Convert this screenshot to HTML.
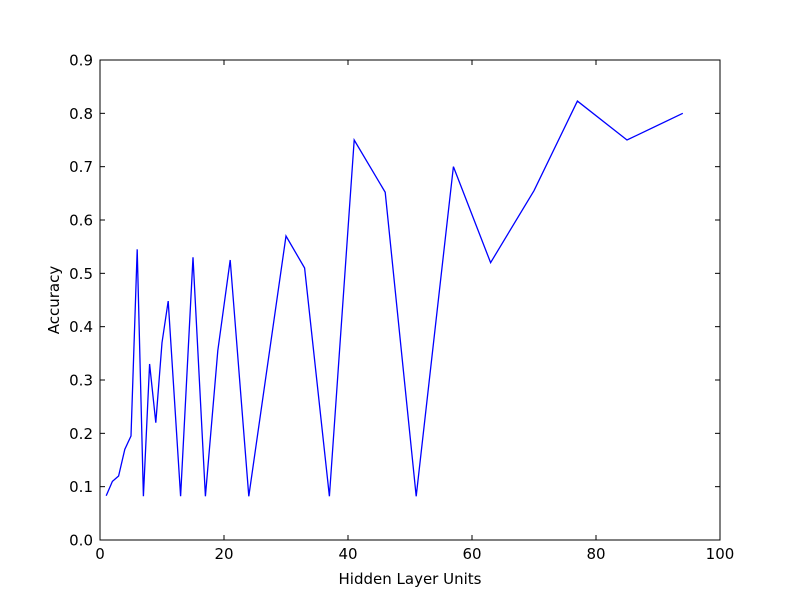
<!DOCTYPE html>
<html><head><meta charset="utf-8"><style>
body{margin:0;background:#fff;}
svg text{font-family:"DejaVu Sans","Liberation Sans",sans-serif;fill:#000;}
</style></head><body>
<svg id="chart" width="800" height="600">
<rect width="800" height="600" fill="#fff"/>
<g id="ticks"></g>
<polyline id="line" fill="none" stroke="#0000ff" stroke-width="1.3"/>
<rect x="100" y="60" width="620" height="480" fill="none" stroke="#000" stroke-width="1"/>
<text x="410" y="584" font-size="15" text-anchor="middle">Hidden Layer Units</text>
<text transform="translate(59,300) rotate(-90)" font-size="15" text-anchor="middle">Accuracy</text>
</svg>
<script>
const units=[1,2,3,4,5,6,7,8,9,10,11,13,15,17,19,21,24,30,33,37,41,46,51,57,63,70,77,85,94];
const accuracy=[0.083,0.11,0.12,0.17,0.195,0.545,0.082,0.33,0.22,0.37,0.448,0.082,0.53,0.082,0.355,0.525,0.082,0.57,0.51,0.082,0.75,0.652,0.082,0.70,0.52,0.655,0.823,0.75,0.80];
const xTicks=[0,20,40,60,80,100];
const yTicks=[0,0.1,0.2,0.3,0.4,0.5,0.6,0.7,0.8,0.9];
const X=v=>100+v/100*620, Y=v=>540-v/0.9*480;
const NS="http://www.w3.org/2000/svg";
const line=document.getElementById('line');
line.setAttribute('points',units.map((u,i)=>X(u)+','+Y(accuracy[i])).join(' '));
const g=document.getElementById('ticks');
function mk(tag,attrs,txt){const e=document.createElementNS(NS,tag);for(const k in attrs)e.setAttribute(k,attrs[k]);if(txt!==undefined)e.textContent=txt;g.appendChild(e);return e;}
xTicks.forEach(t=>{const x=X(t);
const a=mk('line',{x1:x,x2:x,y1:540,y2:535,stroke:'#000'});


const b=mk('line',{x1:x,x2:x,y1:60,y2:65,stroke:'#000'});


const l=mk('text',{x:x,y:559,'font-size':15,'text-anchor':'middle'},String(t));

});
yTicks.forEach(t=>{const y=Y(t);
const a=mk('line',{x1:100,x2:105,y1:y,y2:y,stroke:'#000'});


const b=mk('line',{x1:715,x2:720,y1:y,y2:y,stroke:'#000'});


const l=mk('text',{x:93,y:y+5.5,'font-size':15,'text-anchor':'end'},t.toFixed(1));

});
</script>
</body></html>
